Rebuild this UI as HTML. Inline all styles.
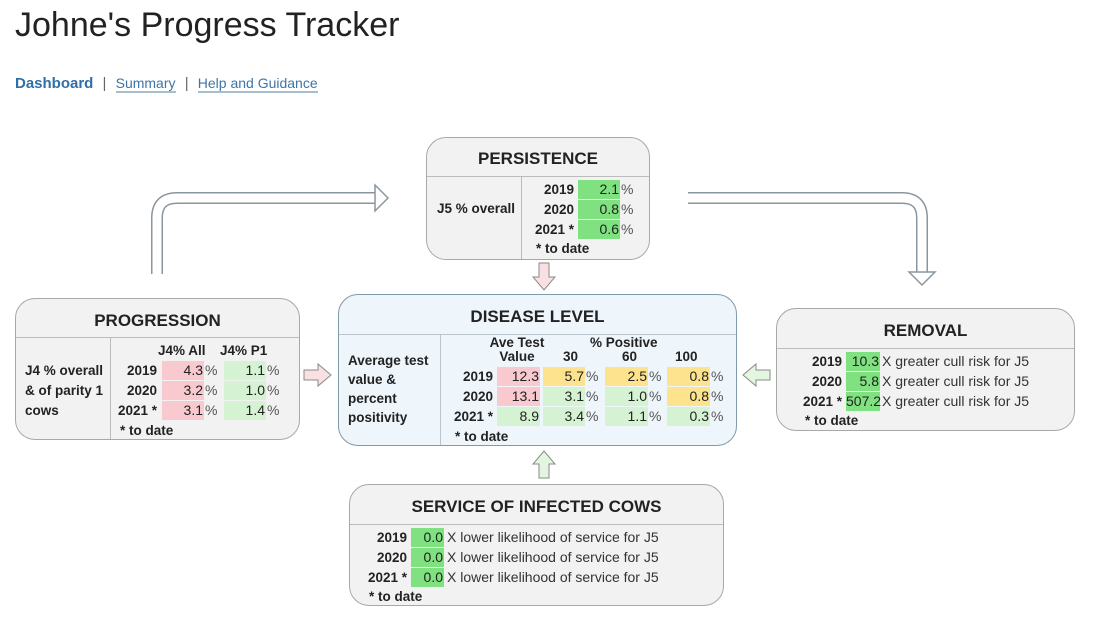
<!DOCTYPE html>
<html><head><meta charset="utf-8"><style>
body{margin:0;width:1096px;height:632px;background:#fff;font-family:"Liberation Sans",Arial,sans-serif;color:#222;position:relative;overflow:hidden}
.a{position:absolute}
.box{position:absolute;border:1px solid #a8a8a8;border-radius:20px;background:#f2f2f2;box-sizing:border-box}
.hd{position:absolute;left:0;right:0;top:0;text-align:center;font-weight:bold;font-size:17px;border-bottom:1px solid #bbb}
.vl{position:absolute;width:1px;background:#bbb;bottom:0}
.b{font-weight:bold;font-size:13.5px}
.c{position:absolute;height:19px;line-height:19px;font-size:14px;text-align:right;box-sizing:border-box;padding-right:1px}
.y{position:absolute;height:19px;line-height:19px;font-weight:bold;font-size:13.5px;text-align:right}
.r{background:#f8c9ce}.g{background:#d5f3d3}.G{background:#7fe17f}.o{background:#fde38e}
.pc{position:absolute;font-size:14px;line-height:19px;color:#555}
.tx{position:absolute;font-size:14px;line-height:19px;color:#333;white-space:nowrap}
</style></head><body>
<div class="a" style="left:15px;top:6px;font-size:34px;color:#222">Johne's Progress Tracker</div>
<div class="a" style="left:15px;top:75px;font-size:15px;white-space:nowrap"><b style="color:#2f6fa8">Dashboard</b> <span style="color:#666;margin:0 5px">|</span> <span style="color:#3d75a8;font-size:14px;border-bottom:2px solid #a9bdd0">Summary</span> <span style="color:#666;margin:0 5px">|</span> <span style="color:#3d75a8;font-size:14px;border-bottom:2px solid #a9bdd0">Help and Guidance</span></div>

<svg class="a" style="left:0;top:0" width="1096" height="632">
<path d="M157 274 V218 Q157 198 177 198 H377" fill="none" stroke="#8a969e" stroke-width="12"/>
<path d="M157 276 V218 Q157 198 177 198 H378" fill="none" stroke="#fff" stroke-width="9"/>
<polygon points="375,185 388,198 375,211" fill="#fff" stroke="#8a969e" stroke-width="1.5"/>
<path d="M688 198 H902 Q922 198 922 218 V273" fill="none" stroke="#8a969e" stroke-width="12"/>
<path d="M686 198 H902 Q922 198 922 218 V274" fill="none" stroke="#fff" stroke-width="9"/>
<polygon points="909,272 922,285 935,272" fill="#fff" stroke="#8a969e" stroke-width="1.5"/>
<polygon points="539,263 549,263 549,277 555,277 544,290 533,277 539,277" fill="#f9e0e3" stroke="#8a8a8a"/>
<polygon points="304,370 318,370 318,364 331,375 318,386 318,380 304,380" fill="#f9e0e3" stroke="#8a8a8a"/>
<polygon points="770,370 756,370 756,364 743,375 756,386 756,380 770,380" fill="#e3f6df" stroke="#8a8a8a"/>
<polygon points="539,478 549,478 549,464 555,464 544,451 533,464 539,464" fill="#e3f6df" stroke="#8a8a8a"/>
</svg>

<!-- Persistence -->
<div class="box" style="left:426px;top:137px;width:224px;height:123px">
<div class="hd" style="height:38px;line-height:42px">PERSISTENCE</div>
<div class="vl" style="left:94px;top:38px"></div>
</div>
<div class="a b" style="left:437px;top:201px">J5 % overall</div>
<div class="y" style="left:530px;width:44px;top:180px">2019</div>
<div class="y" style="left:530px;width:44px;top:200px">2020</div>
<div class="y" style="left:530px;width:44px;top:220px">2021 *</div>
<div class="c G" style="left:578px;width:42px;top:180px">2.1</div><div class="pc" style="left:621px;top:180px">%</div>
<div class="c G" style="left:578px;width:42px;top:200px">0.8</div><div class="pc" style="left:621px;top:200px">%</div>
<div class="c G" style="left:578px;width:42px;top:220px">0.6</div><div class="pc" style="left:621px;top:220px">%</div>
<div class="a b" style="left:536px;top:241px">* to date</div>

<!-- Progression -->
<div class="box" style="left:15px;top:298px;width:285px;height:142px">
<div class="hd" style="height:38px;line-height:43px">PROGRESSION</div>
<div class="vl" style="left:94px;top:38px"></div>
</div>
<div class="a b" style="left:25px;top:361px;line-height:20px">J4 % overall<br>&amp; of parity 1<br>cows</div>
<div class="a b" style="left:158px;top:343px">J4% All</div>
<div class="a b" style="left:220px;top:343px">J4% P1</div>
<div class="y" style="left:110px;width:47px;top:361px">2019</div>
<div class="y" style="left:110px;width:47px;top:381px">2020</div>
<div class="y" style="left:110px;width:47px;top:401px">2021 *</div>
<div class="c r" style="left:162px;width:42px;top:361px">4.3</div><div class="pc" style="left:205px;top:361px">%</div>
<div class="c r" style="left:162px;width:42px;top:381px">3.2</div><div class="pc" style="left:205px;top:381px">%</div>
<div class="c r" style="left:162px;width:42px;top:401px">3.1</div><div class="pc" style="left:205px;top:401px">%</div>
<div class="c g" style="left:224px;width:42px;top:361px">1.1</div><div class="pc" style="left:267px;top:361px">%</div>
<div class="c g" style="left:224px;width:42px;top:381px">1.0</div><div class="pc" style="left:267px;top:381px">%</div>
<div class="c g" style="left:224px;width:42px;top:401px">1.4</div><div class="pc" style="left:267px;top:401px">%</div>
<div class="a b" style="left:120px;top:423px">* to date</div>

<!-- Disease -->
<div class="box" style="left:338px;top:294px;width:399px;height:152px;background:#eef6fc;border-color:#7f9aa8">
<div class="hd" style="height:39px;line-height:44px;border-color:#b9c6cc">DISEASE LEVEL</div>
<div class="vl" style="left:101px;top:39px;background:#b9c6cc"></div>
</div>
<div class="a b" style="left:348px;top:351px;line-height:19px">Average test<br>value &amp;<br>percent<br>positivity</div>
<div class="a b" style="left:487px;top:336px;line-height:14px;text-align:center;width:60px">Ave Test<br>Value</div>
<div class="a b" style="left:590px;top:336px;line-height:14px">% Positive</div>
<div class="a b" style="left:563px;top:349px">30</div>
<div class="a b" style="left:622px;top:349px">60</div>
<div class="a b" style="left:675px;top:349px">100</div>
<div class="y" style="left:450px;width:43px;top:367px">2019</div>
<div class="y" style="left:450px;width:43px;top:387px">2020</div>
<div class="y" style="left:450px;width:43px;top:407px">2021 *</div>
<div class="c r" style="left:497px;width:43px;top:367px">12.3</div>
<div class="c r" style="left:497px;width:43px;top:387px">13.1</div>
<div class="c g" style="left:497px;width:43px;top:407px">8.9</div>
<div class="c o" style="left:543px;width:42px;top:367px">5.7</div><div class="pc" style="left:586px;top:367px">%</div>
<div class="c g" style="left:543px;width:42px;top:387px">3.1</div><div class="pc" style="left:586px;top:387px">%</div>
<div class="c g" style="left:543px;width:42px;top:407px">3.4</div><div class="pc" style="left:586px;top:407px">%</div>
<div class="c o" style="left:605px;width:43px;top:367px">2.5</div><div class="pc" style="left:649px;top:367px">%</div>
<div class="c g" style="left:605px;width:43px;top:387px">1.0</div><div class="pc" style="left:649px;top:387px">%</div>
<div class="c g" style="left:605px;width:43px;top:407px">1.1</div><div class="pc" style="left:649px;top:407px">%</div>
<div class="c o" style="left:667px;width:43px;top:367px">0.8</div><div class="pc" style="left:711px;top:367px">%</div>
<div class="c o" style="left:667px;width:43px;top:387px">0.8</div><div class="pc" style="left:711px;top:387px">%</div>
<div class="c g" style="left:667px;width:43px;top:407px">0.3</div><div class="pc" style="left:711px;top:407px">%</div>
<div class="a b" style="left:455px;top:429px">* to date</div>

<!-- Removal -->
<div class="box" style="left:776px;top:308px;width:299px;height:123px">
<div class="hd" style="height:39px;line-height:44px">REMOVAL</div>
</div>
<div class="y" style="left:790px;width:52px;top:352px">2019</div>
<div class="y" style="left:790px;width:52px;top:372px">2020</div>
<div class="y" style="left:790px;width:52px;top:392px">2021 *</div>
<div class="c G" style="left:846px;width:34px;top:352px">10.3</div><div class="tx" style="left:882px;top:352px">X greater cull risk for J5</div>
<div class="c G" style="left:846px;width:34px;top:372px">5.8</div><div class="tx" style="left:882px;top:372px">X greater cull risk for J5</div>
<div class="c G" style="left:846px;width:34px;top:392px">507.2</div><div class="tx" style="left:882px;top:392px">X greater cull risk for J5</div>
<div class="a b" style="left:805px;top:413px">* to date</div>

<!-- Service -->
<div class="box" style="left:349px;top:484px;width:375px;height:122px">
<div class="hd" style="height:39px;line-height:43px">SERVICE OF INFECTED COWS</div>
</div>
<div class="y" style="left:360px;width:47px;top:528px">2019</div>
<div class="y" style="left:360px;width:47px;top:548px">2020</div>
<div class="y" style="left:360px;width:47px;top:568px">2021 *</div>
<div class="c G" style="left:411px;width:33px;top:528px">0.0</div><div class="tx" style="left:447px;top:528px">X lower likelihood of service for J5</div>
<div class="c G" style="left:411px;width:33px;top:548px">0.0</div><div class="tx" style="left:447px;top:548px">X lower likelihood of service for J5</div>
<div class="c G" style="left:411px;width:33px;top:568px">0.0</div><div class="tx" style="left:447px;top:568px">X lower likelihood of service for J5</div>
<div class="a b" style="left:369px;top:589px">* to date</div>
</body></html>
